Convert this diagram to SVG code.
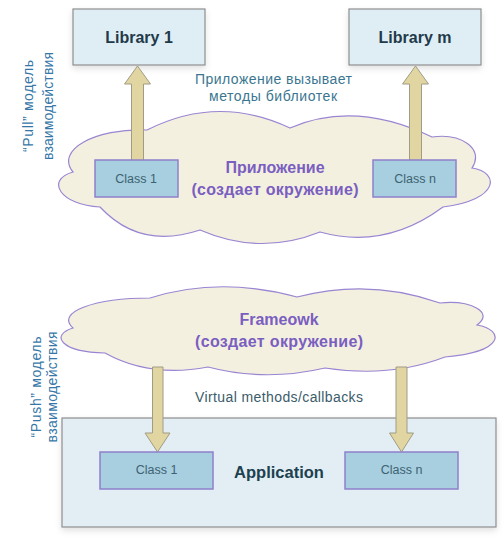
<svg xmlns="http://www.w3.org/2000/svg" width="502" height="544" viewBox="0 0 502 544">
<style>
text{font-family:"Liberation Sans","DejaVu Sans",sans-serif}
.lib{fill:#dfedf4;stroke:#8e8e8e;stroke-width:1.2}
.libt{font-size:16px;font-weight:bold;fill:#1f3a4a;text-anchor:middle}
.cloud{fill:#f3f0e0;stroke:#9a85d2;stroke-width:1.2}
.cloudt{font-size:16px;font-weight:bold;fill:#7a5ec0;text-anchor:middle}
.cls{fill:#a7cfdf;stroke:#8f80cc;stroke-width:1.5}
.clst{font-size:12.5px;fill:#3e6272;text-anchor:middle}
.arr{fill:#e1d5a1;stroke:#a09c86;stroke-width:1}
.note{font-size:14px;fill:#3a7690;text-anchor:middle}
.side{font-size:14px;fill:#3777a8;text-anchor:middle}
.app{fill:#e2eef4;stroke:#8e8e8e;stroke-width:1.2}
.appt{font-size:16.5px;font-weight:bold;fill:#203f4f;text-anchor:middle}
</style>
<defs>
<filter id="sh" x="-10%" y="-10%" width="120%" height="130%">
<feDropShadow dx="0" dy="3" stdDeviation="3" flood-color="#000" flood-opacity="0.12"/>
</filter>
</defs>

<g id="library1">
<rect class="lib" x="73" y="9" width="132" height="56" filter="url(#sh)"/>
<text class="libt" x="139" y="43">Library 1</text>
</g>
<g id="librarym">
<rect class="lib" x="349" y="9" width="132" height="56" filter="url(#sh)"/>
<text class="libt" x="415" y="43">Library m</text>
</g>

<g id="app-cloud">
<path class="cloud" d="M73,172 C55,150 95,128 147,130 Q218,94 290,128 Q355,100 432,137 C460,133 485,148 472,168 C500,172 500,200 443,207 Q385,250 320,232 Q260,256 200,230 Q140,250 100,207 C60,205 45,180 73,172 Z"/>
<text class="cloudt" x="275" y="173">Приложение</text>
<text class="cloudt" x="275" y="195" textLength="167">(создает окружение)</text>
</g>

<g id="application">
<rect class="app" x="62" y="418" width="434" height="109" filter="url(#sh)"/>
<text class="appt" x="279" y="478">Application</text>
</g>

<g id="framework-cloud">
<path class="cloud" d="M73,328 C55,312 95,298 150,298 Q220,276 297,297 Q370,278 440,303 C470,300 495,312 477,325 C505,330 505,352 445,357 Q390,378 325,368 Q265,382 208,367 Q150,378 105,353 C60,352 50,335 73,328 Z"/>
<text class="cloudt" x="279" y="325">Frameowk</text>
<text class="cloudt" x="279" y="347" textLength="168">(создает окружение)</text>
</g>

<g id="connectors">
<polygon class="arr" points="131.5,161 131.5,84 124.5,84 137.5,66 150.5,84 143.5,84 143.5,161"/>
<polygon class="arr" points="409.5,161 409.5,84 402.5,84 415.5,66 428.5,84 421.5,84 421.5,161"/>
<polygon class="arr" points="152.5,367 152.5,433 145,433 157.5,452 170,433 163,433 163,367"/>
<polygon class="arr" points="396,367 396,433 389.5,433 401.5,452 413.5,433 407,433 407,367"/>
</g>

<g id="class1-top">
<rect class="cls" x="95" y="160" width="83" height="37"/>
<text class="clst" x="136" y="183">Class 1</text>
</g>
<g id="classn-top">
<rect class="cls" x="373" y="160" width="83" height="37"/>
<text class="clst" x="415" y="183">Class n</text>
</g>
<g id="class1-bottom">
<rect class="cls" x="100" y="452" width="113" height="37"/>
<text class="clst" x="156.5" y="474">Class 1</text>
</g>
<g id="classn-bottom">
<rect class="cls" x="345" y="452" width="113" height="37"/>
<text class="clst" x="401.5" y="474">Class n</text>
</g>

<g id="labels">
<text class="note" x="273.5" y="84" textLength="157">Приложение вызывает</text>
<text class="note" x="273" y="101" textLength="128">методы библиотек</text>
<text class="note" x="279" y="402" textLength="168" style="fill:#3b5c6a">Virtual methods/callbacks</text>
<text class="side" transform="translate(33,106) rotate(-90)" textLength="92">“Pull” модель</text>
<text class="side" transform="translate(53,106) rotate(-90)" textLength="108">взаимодействия</text>
<text class="side" transform="translate(41,387) rotate(-90)" textLength="101">“Push” модель</text>
<text class="side" transform="translate(57,387) rotate(-90)" textLength="111">взаимодействия</text>
</g>
</svg>
